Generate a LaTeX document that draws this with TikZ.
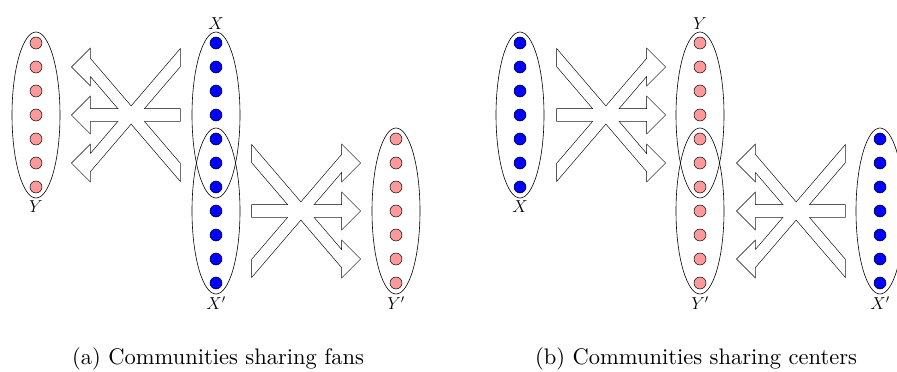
\documentclass[tikz,border=0pt]{standalone}
\usepackage{amsmath,amssymb}
\usepackage{tikz}
\usetikzlibrary{shapes.geometric,positioning}

\definecolor{dotpink}{RGB}{255,153,153}

% three crossing block arrows: #1 tail x, #2 sign (1 right, -1 left), #3 centre y, #4 path options
\newcommand{\crossarrows}[4]{%
  \foreach \yt/\yh/\v in {-57/48/8.5, 0/0/6, 57/-48/8.5}
    \path[#4] ({#1},{#3+\yt-\v}) -- ({#1+90*(#2)},{#3+\yh-\v}) -- ({#1+90*(#2)},{#3+\yh-18})
      -- ({#1+108*(#2)},{#3+\yh}) -- ({#1+90*(#2)},{#3+\yh+18}) -- ({#1+90*(#2)},{#3+\yh+\v})
      -- ({#1},{#3+\yt+\v}) -- cycle;}

\begin{document}
\begin{tikzpicture}[
    x=1pt, y=-1pt,
    fan/.style={circle, draw, fill=dotpink, minimum size=12pt, inner sep=0pt, line width=0.5pt},
    centre/.style={circle, draw, fill=blue, minimum size=12pt, inner sep=0pt, line width=0.5pt},
    grp/.style={ellipse, draw, minimum width=48pt, minimum height=166pt, inner sep=0pt, line width=0.6pt},
    lbl/.style={inner sep=1pt, font=\fontsize{17}{20}\selectfont},
    subcap/.style={anchor=west, inner sep=0pt}
]
\useasboundingbox (0,0) rectangle (897,372);

% (a) communities sharing fans
\foreach \i in {0,...,6} \node[fan] (ya\i) at (36,43+24*\i) {};
\foreach \i in {0,...,10} \node[centre] (xa\i) at (216,43+24*\i) {};
\foreach \i in {0,...,6} \node[fan] (ypa\i) at (396,139+24*\i) {};
\node[grp] (Ya) at (36,115) {};
\node[grp] (Xa) at (216,115) {};
\node[grp] (Xpa) at (216,211) {};
\node[grp] (Ypa) at (396,211) {};
\node[lbl, below=1pt of Ya] (Ya-l) {$Y$};
\node[lbl, above=1pt of Xa] (Xa-l) {$X$};
\node[lbl, below=1pt of Xpa] (Xpa-l) {$X'$};
\node[lbl, below=1pt of Ypa] (Ypa-l) {$Y'$};
\crossarrows{180}{-1}{115}{draw, line width=1.2pt}
\crossarrows{180}{-1}{115}{fill=white}
\crossarrows{252}{1}{211}{draw, line width=1.2pt}
\crossarrows{252}{1}{211}{fill=white}
\node[subcap] (capa) at (72,359) {\scalebox{2.25}{(a) Communities sharing fans}};

% (b) communities sharing centers
\foreach \i in {0,...,6} \node[centre] (xb\i) at (520,43+24*\i) {};
\foreach \i in {0,...,10} \node[fan] (yb\i) at (700,43+24*\i) {};
\foreach \i in {0,...,6} \node[centre] (xpb\i) at (880,139+24*\i) {};
\node[grp] (Xb) at (520,115) {};
\node[grp] (Yb) at (700,115) {};
\node[grp] (Ypb) at (700,211) {};
\node[grp] (Xpb) at (880,211) {};
\node[lbl, below=1pt of Xb] (Xb-l) {$X$};
\node[lbl, above=1pt of Yb] (Yb-l) {$Y$};
\node[lbl, below=1pt of Ypb] (Ypb-l) {$Y'$};
\node[lbl, below=1pt of Xpb] (Xpb-l) {$X'$};
\crossarrows{557}{1}{115}{draw, line width=1.2pt}
\crossarrows{557}{1}{115}{fill=white}
\crossarrows{845}{-1}{211}{draw, line width=1.2pt}
\crossarrows{845}{-1}{211}{fill=white}
\node[subcap] (capb) at (535,359) {\scalebox{2.25}{(b) Communities sharing centers}};
\end{tikzpicture}
\end{document}
